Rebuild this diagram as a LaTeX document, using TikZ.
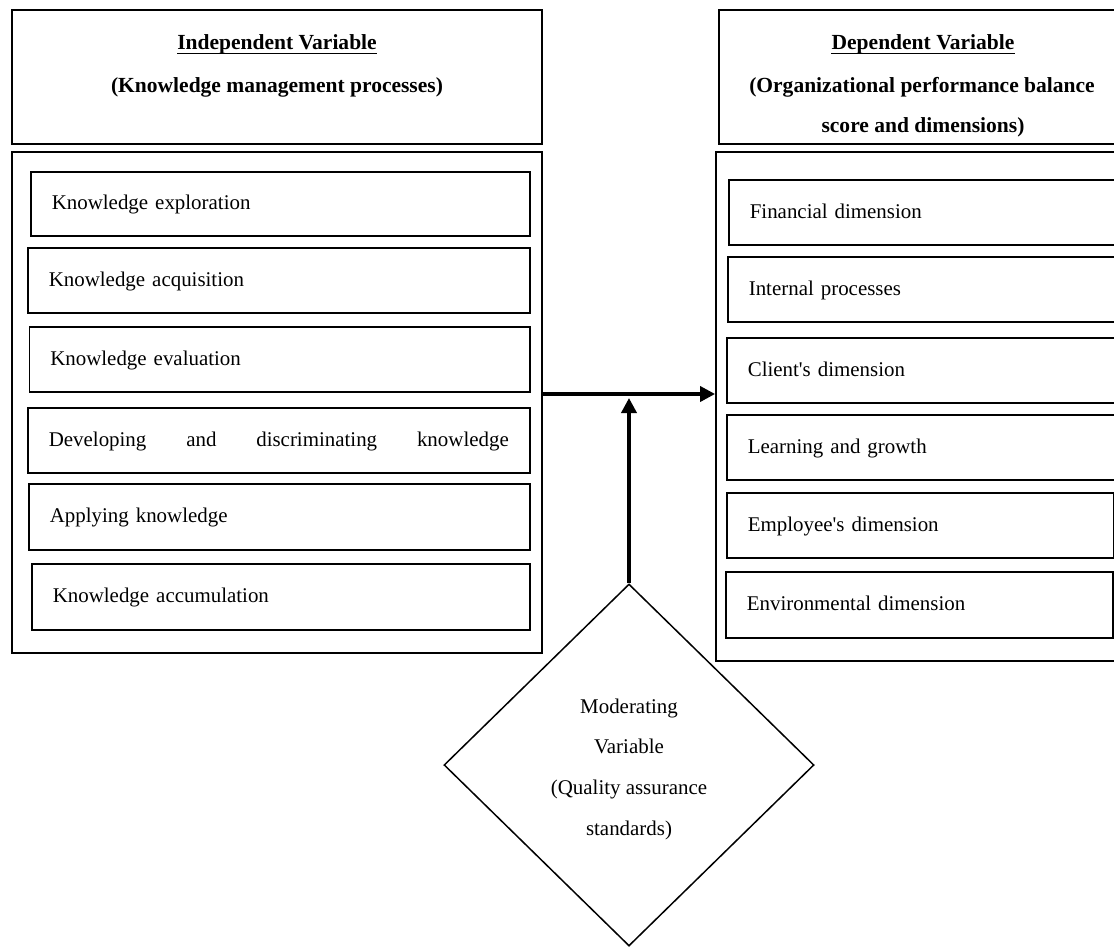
\documentclass[tikz,border=0pt]{standalone}
\usepackage{fontspec}
\setmainfont{Liberation Serif}
\usetikzlibrary{shapes.geometric,arrows.meta}
\begin{document}
\begin{tikzpicture}[x=1bp,y=-1bp,
  every node/.style={font=\fontsize{21}{25}\selectfont},
  frame/.style={draw, line width=1.8bp, inner sep=0pt},
  item/.style={draw, line width=1.6bp, anchor=west, inner xsep=21bp, inner ysep=0pt,
    align=left, text height=15bp, text depth=4bp},
  title/.style={anchor=base, inner sep=0pt, font=\fontsize{21.6}{25}\selectfont\bfseries},
  conn/.style={line width=3.6bp, -{Triangle[length=15bp,width=15bp]}},
  modbox/.style={diamond, draw, line width=1.5bp, inner sep=0pt,
    minimum width=370bp, minimum height=362bp, align=center,
    font=\fontsize{21}{41}\selectfont}
]
\useasboundingbox (0,0) rectangle (1114,948);
\clip (0,0) rectangle (1114,948);

% left side
\node[frame, minimum width=530bp, minimum height=134bp] (lhead) at (277,77) {};
\node[frame, minimum width=530bp, minimum height=501bp] (lbody) at (277,402.5) {};
\node[title] (lt1) at (277,49) {Independent Variable};
\node[title] (lt2) at (277,92) {(Knowledge management processes)};
\draw[line width=1.5bp] ([yshift=-4.5bp]lt1.base west) -- ([yshift=-4.5bp]lt1.base east);

\node[item, text width=457bp, minimum height=64bp] (k1) at (30,204) {Knowledge exploration};
\node[item, text width=460bp, minimum height=65bp] (k2) at (27,280.5) {Knowledge acquisition};
\node[item, text width=458.5bp, minimum height=65bp] (k3) at (28.5,359.5) {Knowledge evaluation};
\node[item, text width=460bp, minimum height=65bp] (k4) at (27,440.5)
  {\hbox to 460bp{Developing\hfill and\hfill discriminating\hfill knowledge}};
\node[item, text width=459bp, minimum height=66bp] (k5) at (28,517) {Applying knowledge};
\node[item, text width=456bp, minimum height=66bp] (k6) at (31,597) {Knowledge accumulation};

% right side
\node[frame, minimum width=409bp, minimum height=134bp] (rhead) at (923.5,77) {};
\node[frame, minimum width=415bp, minimum height=509bp] (rbody) at (923.5,406.5) {};
\node[title] (rt1) at (923,49) {Dependent Variable};
\node[title] (rt2) at (922,92) {(Organizational performance balance};
\node[title] (rt3) at (923,132) {score and dimensions)};
\draw[line width=1.5bp] ([yshift=-4.5bp]rt1.base west) -- ([yshift=-4.5bp]rt1.base east);

\node[item, text width=355bp, minimum height=65bp] (r1) at (728,212.5) {Financial dimension};
\node[item, text width=356bp, minimum height=65bp] (r2) at (727,289.5) {Internal processes};
\node[item, text width=357bp, minimum height=65bp] (r3) at (726,370.5) {Client\textquotesingle s dimension};
\node[item, text width=357bp, minimum height=65bp] (r4) at (726,447.5) {Learning and growth};
\node[item, text width=345bp, minimum height=65bp] (r5) at (726,525.5) {Employee\textquotesingle s dimension};
\node[item, text width=345bp, minimum height=66bp] (r6) at (725,605) {Environmental dimension};

% moderating variable
\node[modbox] (mod) at (629,765) {\rule{0pt}{23bp}Moderating\\Variable\\(Quality assurance\\standards)};

% connectors
\coordinate (hy) at (0,394);
\coordinate (vt) at (629,398);
\draw[conn] (lbody.east |- hy) -- (rbody.west |- hy);
\draw[conn] (mod.north) -- (mod.north |- vt);
\end{tikzpicture}
\end{document}
